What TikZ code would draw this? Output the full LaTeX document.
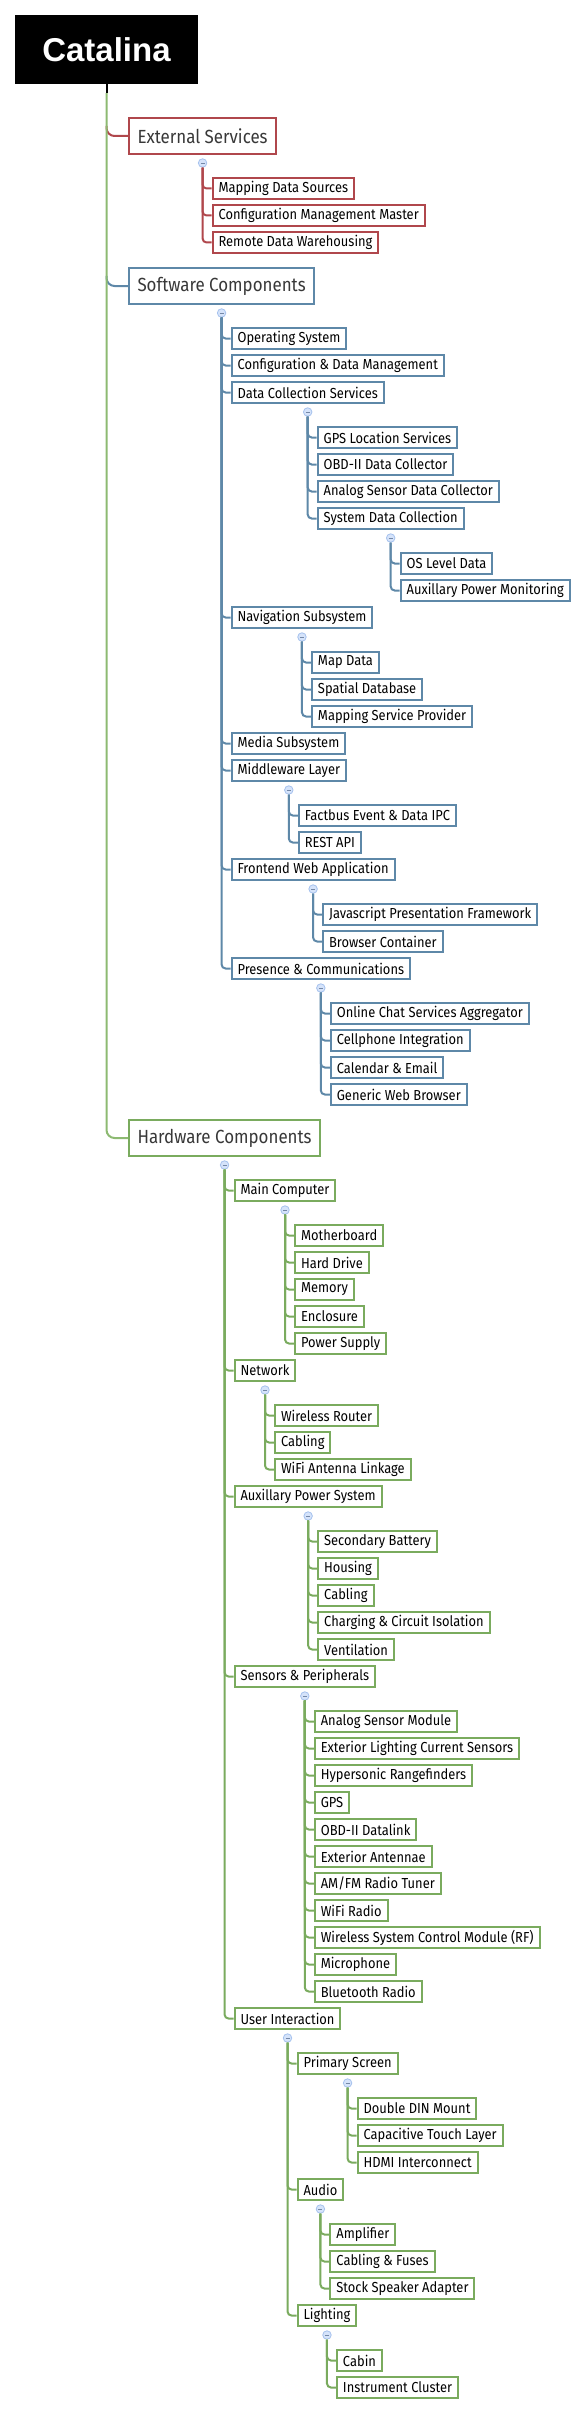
\documentclass[tikz,border=0pt]{standalone}
\usepackage{fontspec}
\usetikzlibrary{calc}

\newfontfamily\leaffont{Fira Sans}[FakeStretch=0.89]
\newfontfamily\rootfont{Liberation Sans}
\definecolor{extred}{HTML}{B0474C}
\definecolor{swblue}{HTML}{5E88A8}
\definecolor{hwgreen}{HTML}{7AAB5E}
\definecolor{trunkgreen}{HTML}{8DBA72}
\definecolor{foldfill}{HTML}{D5E3FA}
\definecolor{foldedge}{HTML}{A6C2EE}
\definecolor{topgrey}{HTML}{383838}

\newcommand\fold[1]{\node[foldmark] (#1fold) at ([yshift=-8pt]#1.south) {};}
\newcommand\kid[4]{%
  \node[leafbox] (#2) at ($(#1.center |- 0,#3)+(9,0)$) {#4};
  \draw[link] (#1fold.south) |- (#2.west);}

\begin{document}
\begin{tikzpicture}[x=1pt, y=-1pt,
  rootbox/.style={fill=black, text=white, font=\rootfont\bfseries\fontsize{33}{36}\selectfont, minimum width=183, minimum height=69, inner sep=0},
  topbox/.style={draw=grp, line width=2, fill=white, text=topgrey, font=\leaffont\fontsize{19}{22}\selectfont, minimum height=36, inner xsep=8.5, inner ysep=1, anchor=west},
  leafbox/.style={draw=grp, line width=2, fill=white, text=black, font=\leaffont\fontsize{14.5}{16}\selectfont, minimum height=21, inner xsep=6, inner ysep=1, anchor=west},
  link/.style={draw=grp, line width=2, rounded corners=4},
  elbow/.style={line width=2, rounded corners=8},
  foldmark/.style={circle, draw=foldedge, fill=foldfill, line width=0.8, minimum size=8.5, inner sep=0,
    path picture={\draw[foldedge!70!black, line width=0.7] ([xshift=-2pt]path picture bounding box.center) -- ([xshift=2pt]path picture bounding box.center);}}]
\useasboundingbox (0,0) rectangle (584,2416);

\node[rootbox] (root) at (106.5,49.5) {Catalina};
\coordinate (stem) at ([yshift=-9pt]root.south);
\draw[line width=2] (root.south) -- (stem);

\begin{scope}
\colorlet{grp}{extred}
\node[topbox] (ext) at (128,136) {External Services};
\draw[elbow, grp] ($(stem |- ext.west)+(0,-10)$) |- (ext.west);
\fold{ext}
\kid{ext}{mapsrc}{188.5}{Mapping Data Sources}
\kid{ext}{cfgmaster}{215.5}{Configuration Management Master}
\kid{ext}{warehouse}{242.5}{Remote Data Warehousing}
\end{scope}

\begin{scope}
\colorlet{grp}{swblue}
\node[topbox] (sw) at (128,286) {Software Components};
\draw[elbow, grp] ($(stem |- sw.west)+(0,-10)$) |- (sw.west);
\fold{sw}
\kid{sw}{os}{338.5}{Operating System}
\kid{sw}{cfgdata}{365.5}{Configuration \& Data Management}
\kid{sw}{datacoll}{392.5}{Data Collection Services}
\fold{datacoll}
\kid{datacoll}{gps}{437.5}{GPS Location Services}
\kid{datacoll}{obd}{464.5}{OBD-II Data Collector}
\kid{datacoll}{analog}{491.5}{Analog Sensor Data Collector}
\kid{datacoll}{sysdata}{518.5}{System Data Collection}
\fold{sysdata}
\kid{sysdata}{oslevel}{563.5}{OS Level Data}
\kid{sysdata}{auxmon}{590.5}{Auxillary Power Monitoring}
\kid{sw}{nav}{617.5}{Navigation Subsystem}
\fold{nav}
\kid{nav}{mapdata}{662.5}{Map Data}
\kid{nav}{spatial}{689.5}{Spatial Database}
\kid{nav}{mapprov}{716.5}{Mapping Service Provider}
\kid{sw}{media}{743.5}{Media Subsystem}
\kid{sw}{middle}{770.5}{Middleware Layer}
\fold{middle}
\kid{middle}{factbus}{815.5}{Factbus Event \& Data IPC}
\kid{middle}{rest}{842.5}{REST API}
\kid{sw}{frontend}{869.5}{Frontend Web Application}
\fold{frontend}
\kid{frontend}{jsframe}{914.5}{Javascript Presentation Framework}
\kid{frontend}{browser}{941.5}{Browser Container}
\kid{sw}{presence}{968.5}{Presence \& Communications}
\fold{presence}
\kid{presence}{chat}{1013.5}{Online Chat Services Aggregator}
\kid{presence}{cell}{1040.5}{Cellphone Integration}
\kid{presence}{calendar}{1067.5}{Calendar \& Email}
\kid{presence}{webbrowser}{1094.5}{Generic Web Browser}
\end{scope}

\begin{scope}
\colorlet{grp}{hwgreen}
\node[topbox] (hw) at (128,1138) {Hardware Components};
\fold{hw}
\kid{hw}{maincomp}{1190.5}{Main Computer}
\fold{maincomp}
\kid{maincomp}{mobo}{1235.5}{Motherboard}
\kid{maincomp}{hdd}{1262.5}{Hard Drive}
\kid{maincomp}{memory}{1289.5}{Memory}
\kid{maincomp}{enclosure}{1316.5}{Enclosure}
\kid{maincomp}{psu}{1343.5}{Power Supply}
\kid{hw}{network}{1370.5}{Network}
\fold{network}
\kid{network}{router}{1415.5}{Wireless Router}
\kid{network}{netcable}{1442.5}{Cabling}
\kid{network}{antenna}{1469.5}{WiFi Antenna Linkage}
\kid{hw}{auxpower}{1496.5}{Auxillary Power System}
\fold{auxpower}
\kid{auxpower}{battery}{1541.5}{Secondary Battery}
\kid{auxpower}{housing}{1568.5}{Housing}
\kid{auxpower}{auxcable}{1595.5}{Cabling}
\kid{auxpower}{charging}{1622.5}{Charging \& Circuit Isolation}
\kid{auxpower}{vent}{1649.5}{Ventilation}
\kid{hw}{sensors}{1676.5}{Sensors \& Peripherals}
\fold{sensors}
\kid{sensors}{sensmod}{1721.5}{Analog Sensor Module}
\kid{sensors}{extlight}{1748.5}{Exterior Lighting Current Sensors}
\kid{sensors}{hyper}{1775.5}{Hypersonic Rangefinders}
\kid{sensors}{gpsrx}{1802.5}{GPS}
\kid{sensors}{obdlink}{1829.5}{OBD-II Datalink}
\kid{sensors}{antennae}{1856.5}{Exterior Antennae}
\kid{sensors}{amfm}{1883.5}{AM/FM Radio Tuner}
\kid{sensors}{wifi}{1910.5}{WiFi Radio}
\kid{sensors}{wscm}{1937.5}{Wireless System Control Module (RF)}
\kid{sensors}{mic}{1964.5}{Microphone}
\kid{sensors}{bt}{1991.5}{Bluetooth Radio}
\kid{hw}{ui}{2018.5}{User Interaction}
\fold{ui}
\kid{ui}{screen}{2063.5}{Primary Screen}
\fold{screen}
\kid{screen}{din}{2108.5}{Double DIN Mount}
\kid{screen}{touch}{2135.5}{Capacitive Touch Layer}
\kid{screen}{hdmi}{2162.5}{HDMI Interconnect}
\kid{ui}{audio}{2189.5}{Audio}
\fold{audio}
\kid{audio}{amp}{2234.5}{Amplifier}
\kid{audio}{audcable}{2261.5}{Cabling \& Fuses}
\kid{audio}{speaker}{2288.5}{Stock Speaker Adapter}
\kid{ui}{lighting}{2315.5}{Lighting}
\fold{lighting}
\kid{lighting}{cabin}{2360.5}{Cabin}
\kid{lighting}{cluster}{2387.5}{Instrument Cluster}
\end{scope}

\draw[elbow, trunkgreen] (stem) |- (hw.west);
\end{tikzpicture}
\end{document}
